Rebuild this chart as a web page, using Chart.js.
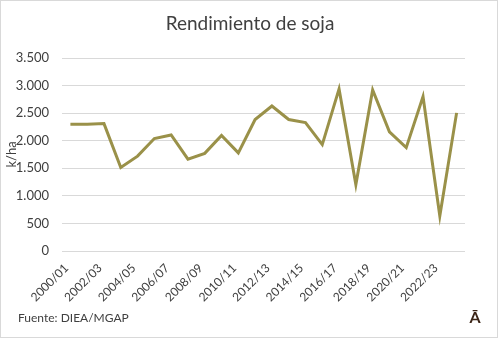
<!DOCTYPE html>
<html>
<head>
<meta charset="utf-8">
<script src="https://cdn.jsdelivr.net/npm/chart.js@4/dist/chart.umd.min.js"></script>
<style>
  html, body { margin: 0; padding: 0; background: #fff; }
  #grafico { display: block; }
</style>
</head>
<body>
<canvas id="grafico" width="500" height="339"></canvas>
<script>
// zafras 2000/01 .. 2023/24
var zafras = ["2000/01","2001/02","2002/03","2003/04","2004/05","2005/06","2006/07","2007/08",
              "2008/09","2009/10","2010/11","2011/12","2012/13","2013/14","2014/15","2015/16",
              "2016/17","2017/18","2018/19","2019/20","2020/21","2021/22","2022/23","2023/24"];

// rendimiento en k/ha
var rendimiento = [2300, 2300, 2310, 1515, 1720, 2040, 2105, 1665,
                   1770, 2095, 1780, 2385, 2630, 2385, 2330, 1930,
                   2940, 1205, 2920, 2160, 1875, 2800, 635, 2505];

var ticksY = [0, 500, 1000, 1500, 2000, 2500, 3000, 3500];

var titulo = "Rendimiento de soja";
var nota = "Fuente: DIEA/MGAP";

var fuente = "Lato, 'Liberation Sans', sans-serif";
var gris = "#d9d9d9";
var texto = "#404040";

function miles(v){
    return String(v).replace(/\B(?=(\d{3})+(?!\d))/g, ".");
}

// marco, titulo centrado en todo el ancho, fuente y logo
var extras = {
    id: 'extras',
    afterDraw: function(chart){
        var ctx = chart.ctx;
        ctx.save();
        ctx.strokeStyle = gris;
        ctx.lineWidth = 1;
        ctx.strokeRect(0.5, 0.5, 497, 337);

        ctx.fillStyle = texto;
        ctx.font = "19px " + fuente;
        ctx.textAlign = "center";
        ctx.textBaseline = "middle";
        ctx.fillText(titulo, 250, 24);

        ctx.font = "12px " + fuente;
        ctx.textAlign = "left";
        ctx.fillText(nota, 18, 318);

        ctx.fillStyle = "#3b2416";
        ctx.font = "bold 16px " + fuente;
        ctx.textAlign = "center";
        ctx.fillText("Ā", 475, 318);
        ctx.restore();
    }
};

var ctx = document.getElementById("grafico").getContext("2d");
window.myLine = new Chart(ctx, {
    type: "line",
    data: {
        labels: zafras,
        datasets: [{
            data: rendimiento,
            borderColor: "#9a9149",
            borderWidth: 3,
            pointRadius: 0,
            tension: 0,
            fill: false
        }]
    },
    options: {
        responsive: false,
        animation: false,
        layout: { padding: { left: 0, right: 35, top: 58, bottom: 0 } },
        plugins: {
            legend: { display: false },
            tooltip: { enabled: false },
            title: { display: false }
        },
        scales: {
            x: {
                offset: true,
                grid: { display: false },
                border: { display: false },
                ticks: {
                    autoSkip: false,
                    maxRotation: 45,
                    minRotation: 45,
                    padding: 2,
                    labelOffset: -4,
                    color: texto,
                    font: { family: fuente, size: 12 },
                    callback: function(v, i){ return i % 2 === 0 ? zafras[i] : ""; }
                },
                afterFit: function(scale){ scale.height = 88; }
            },
            y: {
                min: 0,
                max: 3500,
                afterBuildTicks: function(scale){
                    scale.ticks = ticksY.map(function(v){ return { value: v }; });
                },
                grid: { color: gris, lineWidth: 1, drawTicks: false },
                border: { display: false },
                title: {
                    display: true,
                    text: "k/ha",
                    color: texto,
                    font: { family: fuente, size: 13 },
                    padding: { top: 4, bottom: 0 }
                },
                ticks: {
                    padding: 13,
                    color: texto,
                    font: { family: fuente, size: 13 },
                    callback: function(v){ return miles(v); }
                },
                afterFit: function(scale){ scale.width = 62; }
            }
        }
    },
    plugins: [extras]
});
</script>
</body>
</html>
